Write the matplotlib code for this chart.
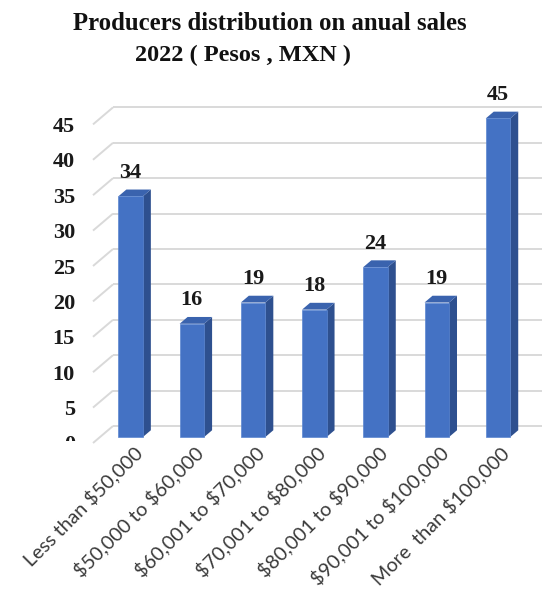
import matplotlib
matplotlib.use("Agg")
import matplotlib.pyplot as plt
from matplotlib.patches import Polygon
from matplotlib.transforms import ScaledTranslation, Bbox
import numpy as np

categories = ["Less than $50,000", "$50,000 to $60,000", "$60,001 to $70,000",
              "$70,001 to $80,000", "$80,001 to $90,000", "$90,001 to $100,000",
              "More  than $100,000"]
producers = [34, 16, 19, 18, 24, 19, 45]
y_ticks = [0, 5, 10, 15, 20, 25, 30, 35, 40, 45]
title_lines = ["Producers distribution on anual sales", "2022 ( Pesos , MXN )"]

W, H, DPI = 544, 593, 100
fig = plt.figure(figsize=(W / DPI, H / DPI), dpi=DPI)

# front plane of the plot area, in pixels
left_px, right_px = 93.0, 521.6
zero_px, top_px = 443.0, 124.4
ax = fig.add_axes([left_px / W, 1 - zero_px / H,
                   (right_px - left_px) / W, (zero_px - top_px) / H])
xmin, xmax = -0.5, len(categories) - 0.5
ymin, ymax = 0, 45
ax.set_xlim(xmin, xmax)
ax.set_ylim(ymin, ymax)
for s in ax.spines.values():
    s.set_visible(False)
ax.patch.set_visible(False)

# pixel -> data unit conversion for the pseudo-3D depth
ux = (xmax - xmin) / (right_px - left_px)
uy = (ymax - ymin) / (zero_px - top_px)
wall_dx, wall_dy = 20.0, 17.0


def depth(d):
    return wall_dx * d * ux, wall_dy * d * uy


grid_c = "#D9D9D9"
wx, wy = depth(1.0)
for v in y_ticks:
    ax.plot([xmin + wx, xmax + wx], [v + wy, v + wy], color=grid_c, lw=1.4,
            clip_on=False, zorder=1, solid_capstyle="butt")
    ax.plot([xmin, xmin + wx], [v, v + wy], color=grid_c, lw=1.4,
            clip_on=False, zorder=1, solid_capstyle="butt")

# bars: front face, side face and top face
bar_w = 0.4
d0x, d0y = depth(0.35)
d1x, d1y = depth(0.75)
front_c, side_c, top_c = "#4472C4", "#2E508F", "#3A63AE"
xs = np.arange(len(categories))
ax.bar(xs + d0x, producers, width=bar_w, bottom=d0y, color=front_c,
       edgecolor="#5B86D0", linewidth=0.5, zorder=3, clip_on=False)
for x, v in zip(xs, producers):
    r = x + bar_w / 2
    l = x - bar_w / 2
    side = Polygon([(r + d0x, d0y), (r + d1x, d1y), (r + d1x, v + d1y), (r + d0x, v + d0y)],
                   closed=True, facecolor=side_c, edgecolor="none", zorder=2, clip_on=False)
    top = Polygon([(l + d0x, v + d0y), (l + d1x, v + d1y), (r + d1x, v + d1y), (r + d0x, v + d0y)],
                  closed=True, facecolor=top_c, edgecolor="none", zorder=2, clip_on=False)
    ax.add_patch(side)
    ax.add_patch(top)
    ax.annotate(f"{v}", (x + d0x, v + d0y), xytext=(0, 17), textcoords="offset points",
                ha="center", va="center", fontsize=16, fontweight="bold",
                family="Liberation Serif", color="#1a1a1a", annotation_clip=False)

# value axis
ax.set_yticks(y_ticks)
ax.set_yticklabels([str(t) for t in y_ticks], fontsize=16, fontweight="bold",
                   family="Liberation Serif", color="#1a1a1a")
ax.tick_params(axis="y", length=0, pad=13)

# category axis
ax.set_xticks(xs)
ax.set_xticklabels(categories, rotation=45, ha="right", rotation_mode="anchor",
                   fontsize=14.2, family="Lato", color="#3a3a3a", parse_math=False)
ax.tick_params(axis="x", length=0, pad=0.5)
shift = ScaledTranslation(9 / DPI, 0, fig.dpi_scale_trans)
for lab in ax.get_xticklabels():
    lab.set_transform(lab.get_transform() + shift)

fig.text(73 / W, 1 - 23 / H, title_lines[0], ha="left", va="center", fontsize=17.8,
         fontweight="bold", family="Liberation Serif", color="#111111")
fig.text(135 / W, 1 - 55 / H, title_lines[1], ha="left", va="center", fontsize=17.5,
         fontweight="bold", family="Liberation Serif", color="#111111")

fig.canvas.draw()
# the lowest value label sits against the lower edge of the axis area and is cut off
clip = Bbox.from_extents(0, H - 441, W, H)
for lab in ax.get_yticklabels():
    if lab.get_text() == "0":
        lab.set_clip_box(clip)
        lab.set_clip_on(True)

fig.savefig("out.png", dpi=DPI)
